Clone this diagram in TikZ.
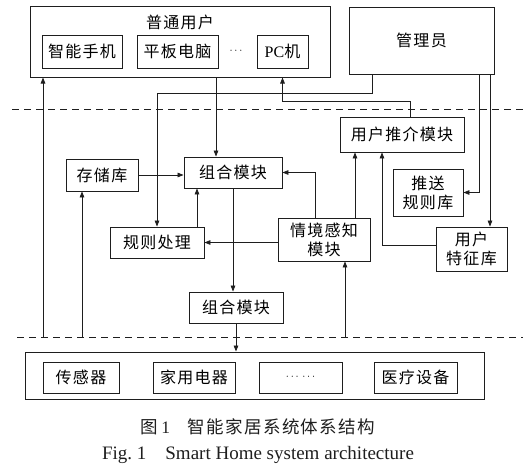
\documentclass[tikz,border=0pt]{standalone}
\usepackage{fontspec}
\setmainfont{Liberation Serif}
\newfontfamily\cjk{Noto Sans CJK SC}[LetterSpace=8]
\usetikzlibrary{positioning,calc,arrows.meta}
\definecolor{edgeDark}{RGB}{30,30,30}

\begin{document}
\begin{tikzpicture}[
  x=1pt,y=-1pt,
  font={\cjk\fontsize{16}{19}\selectfont},
  box/.style={draw=edgeDark,line width=0.9pt,align=center,inner sep=0pt},
  group/.style={draw=edgeDark,line width=1pt,inner sep=0pt},
  link/.style={-{Triangle[length=6pt,width=4.6pt]},line width=0.8pt,draw=edgeDark},
  divider/.style={draw=edgeDark,line width=0.8pt,dash pattern=on 7pt off 5pt},
  capline/.style={inner sep=0pt,text=edgeDark},
  smalldots/.style={font={\fontsize{11}{12}\selectfont}}
]
\useasboundingbox (0,0) rectangle (523,467);

% ==========  Users / admin row  ==========
\node[group,minimum width=300,minimum height=71] (user) at (180,41.5) {};
\node[inner sep=0pt,below=9pt of user.north] (userT) {普通用户};
\node[box,minimum width=80,minimum height=33] (phone)  at (82,51.5)   {智能手机};
\node[box,minimum width=81,minimum height=33] (tablet) at (177.5,51.5) {平板电脑};
\node[inner sep=0pt,smalldots] (udots) at (236,51.5) {$\cdots$};
\node[box,minimum width=51,minimum height=33] (pc)     at (282.5,51.5) {{\rmfamily PC}机};

\node[group,minimum width=145,minimum height=67] (admin) at (421.5,40.5) {管理员};

% ==========  Layer borders  ==========
\coordinate (topL) at (12,109);  \coordinate (topR) at (523,109);
\coordinate (lowL) at (17,337);  \coordinate (lowR) at (523,337);
\draw[divider] (topL) -- (topR);
\draw[divider] (lowL) -- (lowR);

% ==========  Middle modules  ==========
\node[box,minimum width=124,minimum height=35] (recmd) at (402,134.5) {用户推介模块};
\node[box,minimum width=72,minimum height=32]  (store) at (102,175)   {存储库};
\node[box,minimum width=98,minimum height=31]  (combA) at (233,172.5) {组合模块};
\node[box,minimum width=94,minimum height=31]  (rule)  at (157,242.5) {规则处理};
\node[box,minimum width=92,minimum height=43]  (ctx)   at (324,239.5) {情境感知\\模块};
\node[box,minimum width=70,minimum height=47]  (push)  at (428,192.5) {推送\\规则库};
\node[box,minimum width=71,minimum height=44]  (feat)  at (471.5,249) {用户\\特征库};
\node[box,minimum width=94,minimum height=31]  (combB) at (236,307.5) {组合模块};

% ==========  Device row  ==========
\node[group,minimum width=459,minimum height=47] (dev) at (254.5,375.5) {};
\node[box,minimum width=76,minimum height=31] (sensor) at (81,377.5)    {传感器};
\node[box,minimum width=82,minimum height=31] (appl)   at (194,377.5)   {家用电器};
\node[box,minimum width=83,minimum height=31,smalldots] (more) at (300.5,377.5)
  {$\cdots\,\cdots$};
\node[box,minimum width=83,minimum height=31] (med)    at (415.5,377.5) {医疗设备};

% ==========  Caption  ==========
\node[capline,font={\cjk\fontsize{17.5}{20}\selectfont}] (cap1) at (258,427)
  {图\,{\rmfamily 1}\quad 智能家居系统体系结构};
\node[capline,font={\rmfamily\fontsize{19}{22}\selectfont}] (cap2) at (258,455)
  {Fig.~1\quad Smart Home system architecture};

% ==========  Connectors  ==========
% free ends on the lower layer border
\coordinate (inA) at (43,337);
\coordinate (inB) at (82,337);
\coordinate (inC) at (345,337);
\draw[link] (inA) -- (inA |- user.south);
\draw[link] (inB) -- (inB |- store.south);
\draw[link] (inC) -- (inC |- ctx.south);

% users -> combination module
\coordinate (feedA) at ([xshift=-17pt]combA.north);
\draw[link] (feedA |- user.south) -- (feedA);
\draw[link] (store.east) -- (store.east -| combA.west);
\draw[link] ([xshift=-9pt]ctx.north) |- (combA.east);
\coordinate (ruleUp) at ([xshift=40pt]rule.north);
\draw[link] (ruleUp) -- (ruleUp |- combA.south);
\draw[link] (rule.east -| ctx.west) -- (rule.east);
\draw[link] (combA.south) -- (combA.south |- combB.north);
\draw[link] (combB.south) -- (combB.south |- dev.north);

% admin -> rules and libraries
\draw[link] ([xshift=-49.5pt]admin.south) -- ++(0,19) -| (rule.north);
\draw[link] ([xshift=57.5pt]admin.south) |- (push.east);
\coordinate (adminR) at ([xshift=68.5pt]admin.south);
\draw[link] (adminR) -- (adminR |- feat.north);

% recommendation paths
\coordinate (ctxUp) at ([xshift=31pt]ctx.north);
\draw[link] (ctxUp) -- (ctxUp |- recmd.south);
\draw[link] ([yshift=4pt]feat.west) -| ([xshift=-20pt]recmd.south);
\draw[link] ([xshift=8pt]recmd.north) -- ++(0,-15) -| (pc.south |- user.south);

\end{tikzpicture}
\end{document}
